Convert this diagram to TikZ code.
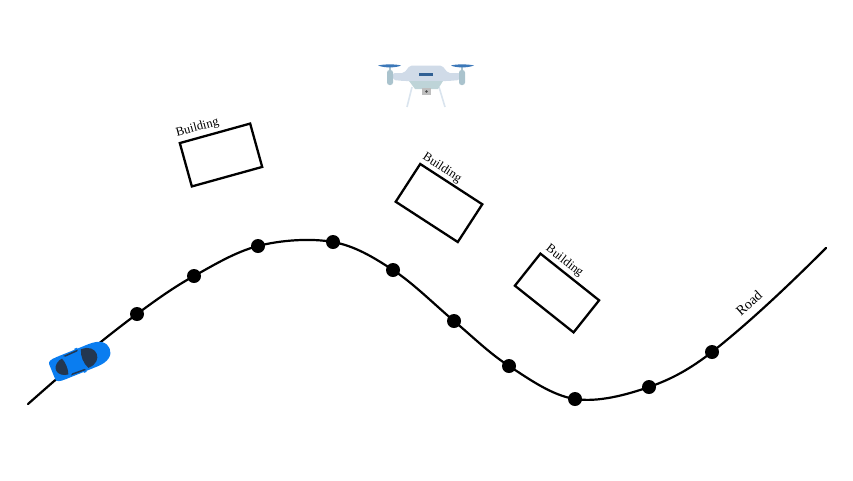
\documentclass[tikz,border=0pt]{standalone}
\usepackage{fontspec}
\setmainfont{Liberation Serif}
\usepackage{xcolor}
\definecolor{carblue}{RGB}{10,125,240}
\definecolor{cardark}{RGB}{35,55,80}
\definecolor{dronebody}{RGB}{208,219,232}
\definecolor{dronehull}{RGB}{190,212,216}
\definecolor{dronemotor}{RGB}{170,195,205}
\definecolor{droneleg}{RGB}{218,228,238}
\definecolor{droneblue}{RGB}{60,120,185}
\definecolor{dronecam}{RGB}{190,190,190}
\begin{document}
\begin{tikzpicture}[
  x=1pt, y=-1pt,
  building/.style={rectangle, draw=black, minimum width=73pt, minimum height=45pt, line width=2.3pt, inner sep=0pt},
  buildinglabel/.style={font=\fontsize{12.5}{13}\selectfont, inner sep=0pt},
  waypoint/.style={circle, fill=black, minimum size=14pt, inner sep=0pt},
  road/.style={line width=2.2pt, line cap=round},
  prop/.style={fill=droneblue}
]
\useasboundingbox (0,0) rectangle (853,480);

\coordinate (roadstart) at (28,404);
\coordinate (roadcar) at (80,359);
\coordinate (roadend) at (826,248);
\node[waypoint] (w1) at (137,314) {};
\node[waypoint] (w2) at (194,276) {};
\node[waypoint] (w3) at (258,246) {};
\node[waypoint] (w4) at (333,242) {};
\node[waypoint] (w5) at (393,270) {};
\node[waypoint] (w6) at (454,321) {};
\node[waypoint] (w7) at (509,366) {};
\node[waypoint] (w8) at (575,399) {};
\node[waypoint] (w9) at (649,387) {};
\node[waypoint] (w10) at (712,352) {};

\draw[road] (roadstart) .. controls +(17,-15) and +(-18,15) .. (roadcar)
  .. controls +(18,-15) and +(-19,14) .. (w1.center)
  .. controls +(19,-14) and +(-20,11) .. (w2.center)
  .. controls +(20,-11) and +(-23,6) .. (w3.center)
  .. controls +(23,-6) and +(-22,-4) .. (w4.center)
  .. controls +(22,4) and +(-20,-13) .. (w5.center)
  .. controls +(20,13) and +(-19,-16) .. (w6.center)
  .. controls +(19,16) and +(-20,-13) .. (w7.center)
  .. controls +(20,13) and +(-23,-3.5) .. (w8.center)
  .. controls +(23,3.5) and +(-23,8) .. (w9.center)
  .. controls +(23,-8) and +(-22,17) .. (w10.center)
  .. controls +(38,-30) and +(-36,36) .. (roadend);

\node[building, rotate=15.5] (b1) at (221,155) {};
\node[building, rotate=-33, minimum width=74pt] (b2) at (439,203) {};
\node[building, rotate=-38.5, minimum width=75pt, minimum height=41pt] (b3) at (557,293) {};

\node[buildinglabel, rotate=15] (l1) at (197.5,128) {Building};
\node[buildinglabel, rotate=-33] (l2) at (442,168) {Building};
\node[buildinglabel, rotate=-38] (l3) at (564.5,261) {Building};
\node[buildinglabel, rotate=42, font=\fontsize{14}{14}\selectfont] (l4) at (749,303) {Road};

\begin{scope}[shift={(80,360.5)}, rotate=22]
  \fill[carblue] (-1,-13) rectangle (2,-10);
  \fill[carblue] (-1,10) rectangle (2,13);
  \fill[carblue] (-30,-8) .. controls (-30,-11) and (-27,-12) .. (-20,-12) -- (14,-12) .. controls (26,-12) and (32,-7) .. (32,0) .. controls (32,7) and (26,12) .. (14,12) -- (-20,12) .. controls (-27,12) and (-30,11) .. (-30,8) -- cycle;
  \fill[cardark] (5,-10) .. controls (14,-10) and (18,-5) .. (18,0) .. controls (18,5) and (14,10) .. (5,10) .. controls (2,4) and (2,-4) .. (5,-10) -- cycle;
  \fill[cardark] (-16,-8.5) .. controls (-20,-8.5) and (-26,-5) .. (-26,0) .. controls (-26,5) and (-20,8.5) .. (-16,8.5) .. controls (-14,4) and (-14,-4) .. (-16,-8.5) -- cycle;
  \fill[cardark] (-14,-10.5) -- (2,-11) -- (1,-9.5) -- (-12,-9) -- cycle;
  \fill[cardark] (-14,10.5) -- (2,11) -- (1,9.5) -- (-12,9) -- cycle;
\end{scope}

\draw[droneleg, line width=1.6pt] (412,87) -- (407,107);
\draw[droneleg, line width=1.6pt] (439,87) -- (445,107);
\fill[dronebody, rounded corners=2pt] (393,73) -- (404,73) -- (410,65.5) -- (442,65.5) -- (448,73) -- (460,73) -- (460,80) -- (448,81) -- (404,81) -- (393,80) -- cycle;
\fill[dronehull] (409,81) -- (443,81) -- (438,89) -- (415,89) -- cycle;
\fill[dronecam] (422,88) rectangle (431,95);
\fill[black!70] (426.5,91.5) circle (1.3pt);
\fill[droneblue!80!black] (419,72.5) rectangle (433,75.5);
\fill[dronemotor, rounded corners=2.5pt] (387,70) rectangle (393,85);
\fill[dronemotor, rounded corners=2.5pt] (459,70) rectangle (465,85);
\fill[dronemotor] (389,66) rectangle (391,71);
\fill[dronemotor] (461,66) rectangle (463,71);
\fill[prop] (378,65.5) .. controls (384,64) and (396,64) .. (401,65.5) .. controls (396,68) and (384,68) .. (378,65.5) -- cycle;
\fill[prop] (451,65.5) .. controls (456,64) and (468,64) .. (474,65.5) .. controls (468,68) and (456,68) .. (451,65.5) -- cycle;
\end{tikzpicture}
\end{document}
